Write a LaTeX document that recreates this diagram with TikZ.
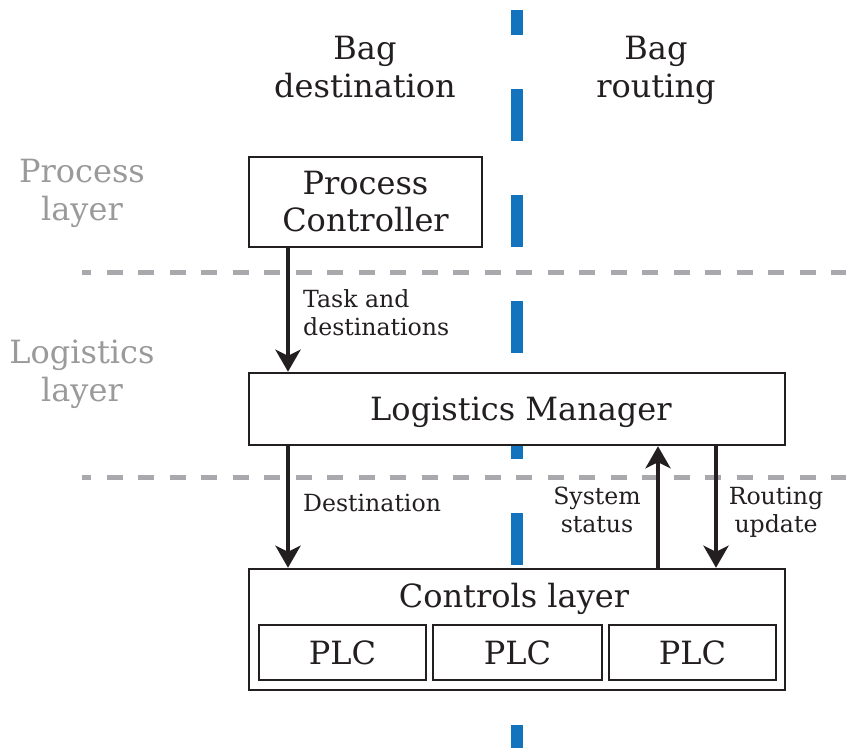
\documentclass[tikz,border=0pt]{standalone}
\usepackage{fontspec}
\setmainfont{DejaVu Serif}
\usetikzlibrary{arrows.meta}
\definecolor{ink}{HTML}{231F20}
\definecolor{splitblue}{HTML}{1373BD}
\definecolor{layergray}{HTML}{A9A9AD}
\definecolor{labelgray}{HTML}{9A9A9A}
\tikzset{
  bigtext/.style={font=\fontsize{32}{37.5}\selectfont, text=ink},
  smalltext/.style={font=\fontsize{23.6}{28}\selectfont, text=ink},
  layertext/.style={font=\fontsize{32}{37.5}\selectfont, text=labelgray, align=center},
  box/.style={draw=ink, line width=2.5pt, fill=white, inner sep=0pt},
  flow/.style={draw=ink, line width=4pt, -{Stealth[length=22pt, width=25pt, inset=6pt]}},
  layerline/.style={draw=layergray, line width=5pt, dash pattern=on 16pt off 15.5pt, dash phase=7pt},
  splitline/.style={draw=splitblue, line width=12pt, dash pattern=on 52pt off 54pt, dash phase=27pt},
}
\begin{document}
\begin{tikzpicture}[x=1pt, y=-1pt]
\useasboundingbox (0,0) rectangle (859,747);

% separation between destination and routing concerns
\coordinate (splittop) at (517,10);
\coordinate (splitbot) at (517,760);
\draw[splitline] (splittop) -- (splitbot);

% layer boundaries
\coordinate (l1a) at (82,272.5);
\coordinate (l1b) at (846,272.5);
\coordinate (l2a) at (82,477.5);
\coordinate (l2b) at (846,477.5);
\draw[layerline] (l1a) -- (l1b);
\draw[layerline] (l2a) -- (l2b);

% column headings (base = baseline of the last line)
\node[bigtext, align=center, anchor=base] (hdest) at (365,97) {Bag\\destination};
\node[bigtext, align=center, anchor=base] (hrout) at (656,97) {Bag\\routing};

% layer names
\node[layertext, anchor=base] (lproc) at (82,220) {Process\\layer};
\node[layertext, anchor=base] (llog) at (82,401) {Logistics\\layer};

% components
\node[box, minimum width=233pt, minimum height=90pt] (pc) at (365.5,202) {};
\node[bigtext, align=center, anchor=base] (pctext) at (pc.center |- 0,231.5) {Process\\Controller};

\node[box, minimum width=536pt, minimum height=72pt] (lm) at (517,409) {};
\node[bigtext, anchor=base] (lmtext) at (521,420) {Logistics Manager};

\node[box, minimum width=536pt, minimum height=121pt] (cl) at (517,629.5) {};
\node[bigtext, anchor=base] (cltext) at (514,607) {Controls layer};

\node[box, minimum width=167pt, minimum height=55pt] (plc1) at (342.5,652.5) {};
\node[box, minimum width=169pt, minimum height=55pt] (plc2) at (517.5,652.5) {};
\node[box, minimum width=167pt, minimum height=55pt] (plc3) at (692.5,652.5) {};
\node[bigtext, anchor=base] at (plc1.center |- 0,664) {PLC};
\node[bigtext, anchor=base] at (plc2.center |- 0,664) {PLC};
\node[bigtext, anchor=base] at (plc3.center |- 0,664) {PLC};

% message flows
\coordinate (xa) at (288,0);
\coordinate (xb) at (658,0);
\coordinate (xc) at (716,0);
\draw[flow] (pc.south -| xa) -- (lm.north -| xa);
\draw[flow] (lm.south -| xa) -- (cl.north -| xa);
\draw[flow] (cl.north -| xb) -- (lm.south -| xb);
\draw[flow] (lm.south -| xc) -- (cl.north -| xc);

% flow labels
\node[smalltext, align=left, anchor=base west, inner sep=0pt] (ltask) at (303,335) {Task and\\destinations};
\node[smalltext, anchor=base west, inner sep=0pt] (ldest) at (303,511) {Destination};
\node[smalltext, align=center, anchor=base, inner sep=0pt] (lstat) at (597,532) {System\\status};
\node[smalltext, align=center, anchor=base, inner sep=0pt] (lrout) at (776,532) {Routing\\update};
\end{tikzpicture}
\end{document}
